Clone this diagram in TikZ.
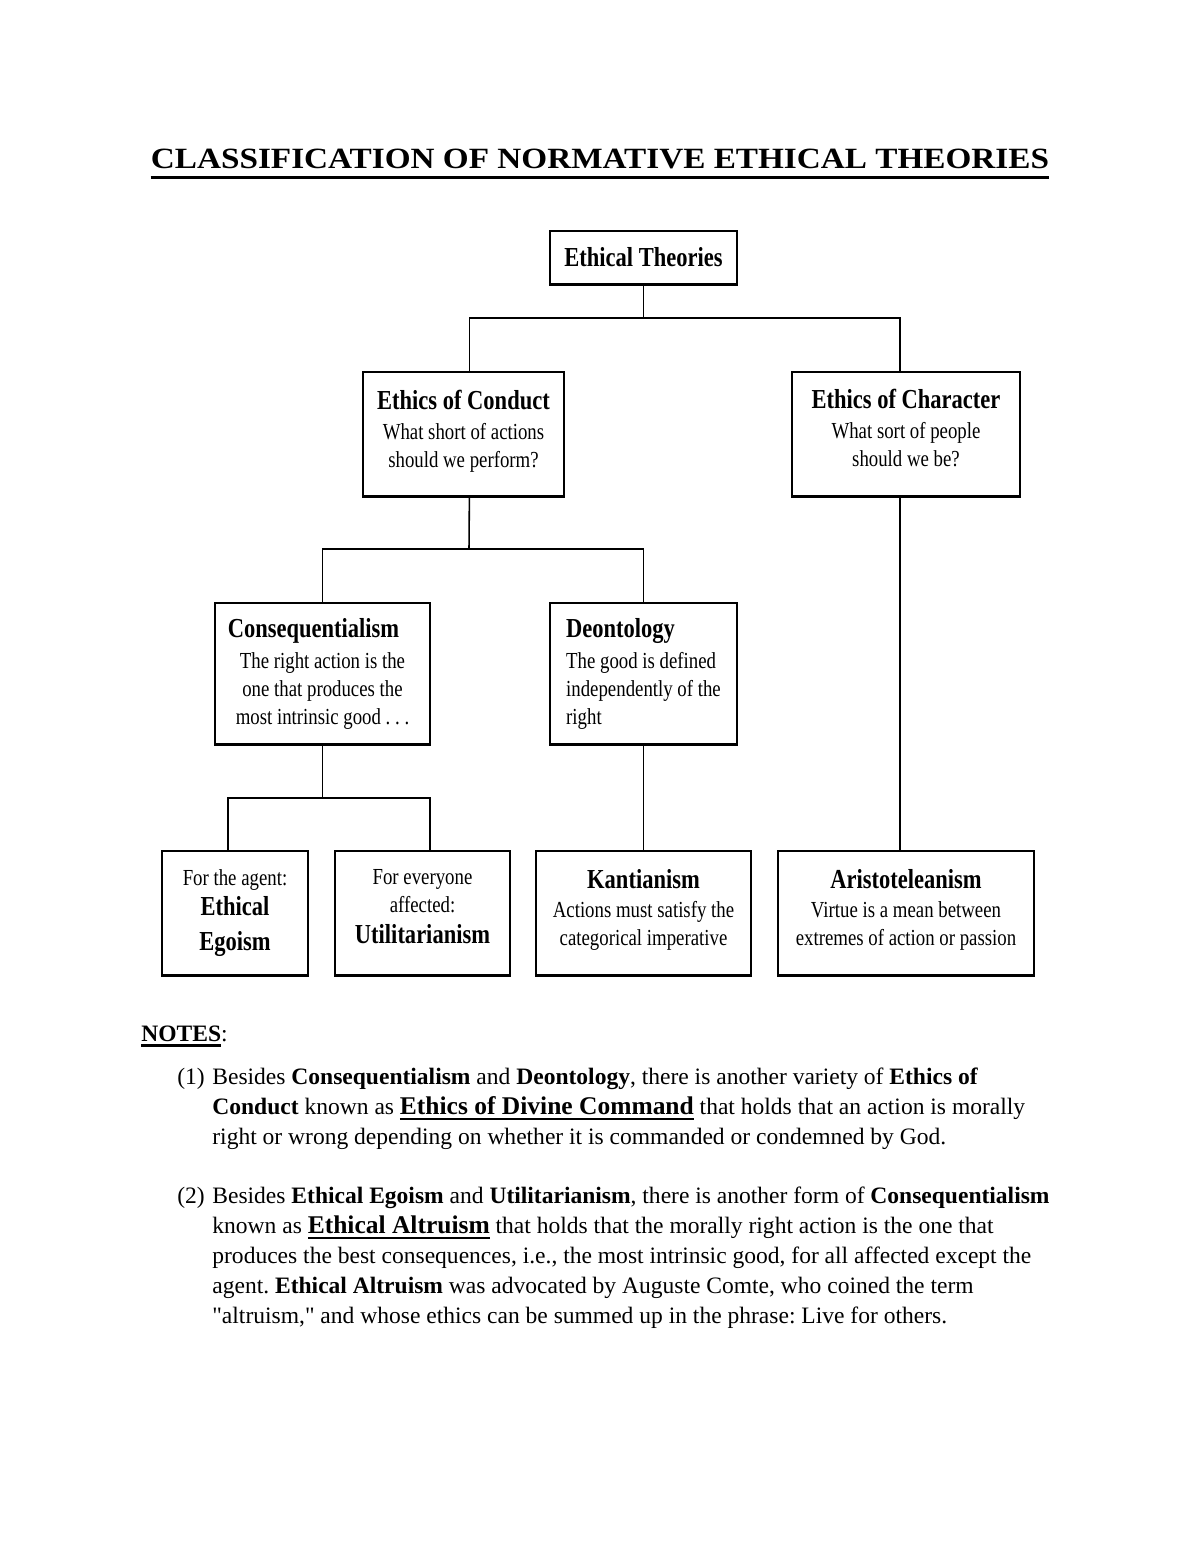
\documentclass[tikz,border=0pt]{standalone}
\usepackage{fontspec}
\setmainfont{Liberation Serif}
\newfontfamily\boxfont[FakeStretch=0.82]{Liberation Serif}
\newfontfamily\headfont[FakeStretch=1.13]{Liberation Serif}
\newcommand{\ulword}[1]{\setbox0=\hbox{#1}\leavevmode\rlap{\rule[-2.8pt]{\wd0}{1.1pt}}\box0}
\newcommand{\boxhead}[1]{{\fontsize{14}{16}\selectfont\bfseries #1}}
\newcommand{\bigword}[1]{{\fontsize{13}{15}\selectfont\bfseries\ulword{#1}}}
\newcommand{\lift}[1]{\rule[-#1]{0pt}{#1}}
\frenchspacing

\begin{document}
\begin{tikzpicture}[x=0.51pt,y=-0.51pt,
    box/.style={draw,line width=0.9pt,inner sep=0pt,align=center,
      font=\boxfont\fontsize{11.7}{14.3}\selectfont},
    link/.style={line width=0.8pt},
    note/.style={inner sep=0pt,align=left,font=\fontsize{12}{15.2}\selectfont}]
  \useasboundingbox (0,0) rectangle (1200,1553);

  % heading
  \node[inner sep=0pt,font=\headfont\fontsize{15}{18}\selectfont\bfseries] (title) at (600,159) {CLASSIFICATION OF NORMATIVE ETHICAL THEORIES};
  \draw[line width=1.6pt] ([yshift=-4.6pt]title.base west) -- ([yshift=-4.6pt]title.base east);

  % boxes
  \node[box,minimum width=95.4pt,minimum height=27pt] (et) at (643.5,257.5) {\boxhead{Ethical Theories}};
  \node[box,minimum width=102.5pt,minimum height=63.2pt] (conduct) at (463.5,434) {\boxhead{Ethics of Conduct}\\[0.8pt] What short of actions\\ should we perform?\lift{5pt}};
  \node[box,minimum width=116.3pt,minimum height=63.2pt] (character) at (906,434) {\boxhead{Ethics of Character}\\[0.8pt] What sort of people\\ should we be?\lift{6pt}};
  \node[box,minimum width=109.7pt,minimum height=71.9pt] (conseq) at (322.5,673.5) {\boxhead{Consequentialism}\hspace*{9.2pt}\\[1.5pt] The right action is the\\ one that produces the\\ most intrinsic good . . .};
  \node[box,align=left,minimum width=95.4pt,minimum height=71.9pt] (deont) at (643.5,673.5) {\boxhead{Deontology}\\[1.5pt] The good is defined\\ independently of the\\ right};
  \node[box,minimum width=74.5pt,minimum height=63.2pt] (egoism) at (235,913) {For the agent:\\[1pt] \boxhead{Ethical}\\[3.5pt] \boxhead{Egoism}};
  \node[box,minimum width=89.3pt,minimum height=63.2pt] (util) at (422.5,913) {For everyone\\ affected:\\[1.5pt] \boxhead{Utilitarianism}\lift{7pt}};
  \node[box,minimum width=109.7pt,minimum height=63.2pt] (kant) at (643.5,913) {\boxhead{Kantianism}\\[0.5pt] Actions must satisfy the\\ categorical imperative\lift{6pt}};
  \node[box,minimum width=130.6pt,minimum height=63.2pt] (aristo) at (906,913) {\boxhead{Aristoteleanism}\\[0.5pt] Virtue is a mean between\\ extremes of action or passion\lift{6pt}};
  \foreach \n in {et,conduct,character,conseq,deont,egoism,util,kant,aristo}
    \draw[line width=1.6pt] (\n.south west) -- (\n.south east);

  % connectors
  \coordinate (j1) at (643.5,318);
  \draw[link] (et) -- (j1);
  \draw[link] ([xshift=3pt]conduct.north) |- (j1) -| ([xshift=-3pt]character.north);
  \coordinate (j2) at (469,549);
  \draw[link] ([xshift=3pt]conduct.south) -- (j2);
  \draw[link] (conseq.north) |- (j2) -| (deont.north);
  \coordinate (j3) at (322.5,798);
  \draw[link] (conseq) -- (j3);
  \draw[link] ([xshift=-3.5pt]egoism.north) |- (j3) -| ([xshift=3.8pt]util.north);
  \draw[link] (deont) -- (kant);
  \draw[link] ([xshift=-3pt]character.south) -- ([xshift=-3pt]aristo.north);

  % notes
  \node[note,anchor=base west] (notes) at (141,1041) {\textbf{\ulword{NOTES}}:};
  \node[note,anchor=base west] (lab1) at (177,1084) {(1)};
  \node[note,anchor=north west] (note1) at (212,1068) {Besides \textbf{Consequentialism} and \textbf{Deontology}, there is another variety of \textbf{Ethics of}\\
    \textbf{Conduct} known as \bigword{Ethics of Divine Command} that holds that an action is morally\\
    right or wrong depending on whether it is commanded or condemned by God.};
  \node[note,anchor=base west] (lab2) at (177,1203) {(2)};
  \node[note,anchor=north west] (note2) at (212,1187) {Besides \textbf{Ethical Egoism} and \textbf{Utilitarianism}, there is another form of \textbf{Consequentialism}\\
    known as \bigword{Ethical Altruism} that holds that the morally right action is the one that\\
    produces the best consequences, i.e., the most intrinsic good, for all affected except the\\
    agent. \textbf{Ethical Altruism} was advocated by Auguste Comte, who coined the term\\
    \textquotedbl altruism,\textquotedbl{} and whose ethics can be summed up in the phrase: Live for others.};
\end{tikzpicture}
\end{document}
